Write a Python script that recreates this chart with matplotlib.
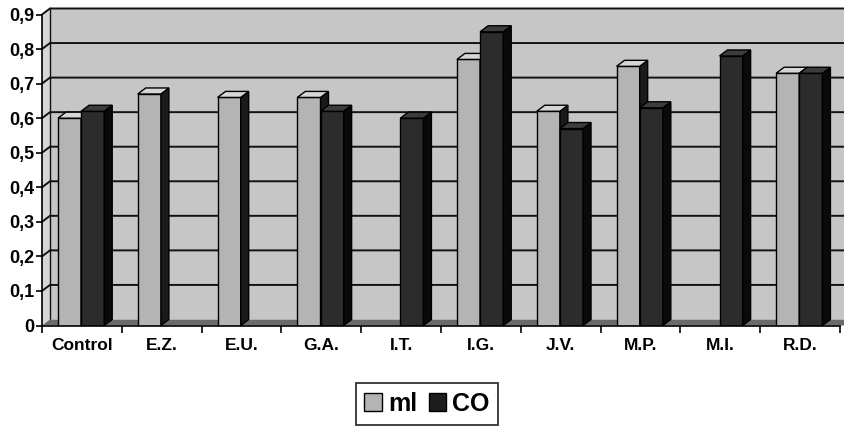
import numpy as np
import matplotlib
matplotlib.use("Agg")
import matplotlib.pyplot as plt
from matplotlib.patches import Polygon, Patch

# Data
categories = ["Control", "E.Z.", "E.U.", "G.A.", "I.T.", "I.G.", "J.V.", "M.P.", "M.I.", "R.D."]
ml_values = [0.60, 0.67, 0.66, 0.66, np.nan, 0.77, 0.62, 0.75, np.nan, 0.73]
co_values = [0.62, np.nan, np.nan, 0.62, 0.60, 0.85, 0.57, 0.63, 0.78, 0.73]
series_names = ["ml", "CO"]
y_ticks = [0.0, 0.1, 0.2, 0.3, 0.4, 0.5, 0.6, 0.7, 0.8, 0.9]

plt.rcParams["font.family"] = ["Liberation Sans", "DejaVu Sans"]

fig = plt.figure(figsize=(8.44, 4.26), dpi=100)
W, H = 844, 426
ax = fig.add_axes([42 / W, (H - 325.5) / H, 798 / W, (325.5 - 14.5) / H])
ax.set_xlim(-0.5, 9.5)
ax.set_ylim(0, 0.9)
ax.patch.set_visible(False)
for s in ["top", "right"]:
    ax.spines[s].set_visible(False)
for s in ["left", "bottom"]:
    ax.spines[s].set_color("black")
    ax.spines[s].set_linewidth(1.2)
    ax.spines[s].set_zorder(50)

# 3-D depth offset (x in category units, y in value units)
DX = 0.10
DY = 0.0174
x_lo, x_hi = -0.5, 9.5
x_far = x_hi + 1.0

wall_c = "#c6c6c6"
side_wall_c = "#d6d6d6"
floor_c = "#6a6a6a"
grid_c = "#121212"

# back wall
ax.add_patch(Polygon([(x_lo + DX, DY), (x_far, DY), (x_far, 0.9 + DY), (x_lo + DX, 0.9 + DY)],
                     closed=True, facecolor=wall_c, edgecolor="none", zorder=0, clip_on=False))
# side wall
ax.add_patch(Polygon([(x_lo, 0), (x_lo, 0.9), (x_lo + DX, 0.9 + DY), (x_lo + DX, DY)],
                     closed=True, facecolor=side_wall_c, edgecolor="none", zorder=0.5, clip_on=False))
ax.plot([x_lo + DX, x_lo + DX], [DY, 0.9 + DY], color=grid_c, lw=1.0, zorder=1, clip_on=False)

# gridlines on the walls
for v in y_ticks[1:]:
    ax.plot([x_lo, x_lo + DX, x_far], [v, v + DY, v + DY], color=grid_c,
            lw=1.4, zorder=1, clip_on=False, solid_joinstyle="miter")

# floor
ax.add_patch(Polygon([(x_lo, 0), (x_far, 0), (x_far + DX, DY), (x_lo + DX, DY)],
                     closed=True, facecolor=floor_c, edgecolor="none", zorder=2, clip_on=False))

# bars
bar_w = 0.29
offsets = [-0.30, -0.01]
styles = [
    dict(front="#b4b4b4", top="#d6d6d6", side="#1a1a1a"),
    dict(front="#2c2c2c", top="#3c3c3c", side="#0a0a0a"),
]
z = 10
for i in range(len(categories)):
    for vals, off, st in zip([ml_values, co_values], offsets, styles):
        v = vals[i]
        if np.isnan(v):
            continue
        x0 = i + off
        x1 = x0 + bar_w
        ax.bar(x0, v, width=bar_w, align="edge", color=st["front"],
               edgecolor="black", linewidth=1.0, zorder=z)
        ax.add_patch(Polygon([(x1, 0), (x1, v), (x1 + DX, v + DY), (x1 + DX, DY)],
                             closed=True, facecolor=st["side"], edgecolor="black",
                             linewidth=1.0, zorder=z))
        ax.add_patch(Polygon([(x0, v), (x1, v), (x1 + DX, v + DY), (x0 + DX, v + DY)],
                             closed=True, facecolor=st["top"], edgecolor="black",
                             linewidth=1.0, zorder=z))
        z += 1

# axes ticks and labels
ax.set_yticks(y_ticks)
ax.set_yticklabels([("0" if t == 0 else f"{t:.1f}".replace(".", ",")) for t in y_ticks],
                   fontsize=13, fontweight="bold")
ax.tick_params(axis="y", direction="out", length=4, width=1.2, pad=1.5)

ax.set_xticks(np.arange(-0.5, 10.0, 1.0))
ax.set_xticklabels([])
ax.tick_params(axis="x", which="major", direction="out", length=5, width=1.2)
ax.set_xticks(np.arange(len(categories)), minor=True)
ax.set_xticklabels(categories, minor=True, fontsize=12.5, fontweight="bold")
ax.tick_params(axis="x", which="minor", length=0, pad=9)

# legend
handles = [Patch(facecolor="#b4b4b4", edgecolor="black", linewidth=1.0),
           Patch(facecolor="#1c1c1c", edgecolor="black", linewidth=1.0)]
leg = fig.legend(handles, series_names, loc="upper center", bbox_to_anchor=(0.506, 1 - 383 / H),
                 ncol=2, frameon=True, fancybox=False, prop=dict(size=18, weight="bold"),
                 handlelength=0.7, handleheight=0.7, handletextpad=0.25, columnspacing=0.45,
                 borderpad=0.35, borderaxespad=0)
leg.get_frame().set_edgecolor("black")
leg.get_frame().set_linewidth(1.3)

fig.savefig("out.png", dpi=100)
